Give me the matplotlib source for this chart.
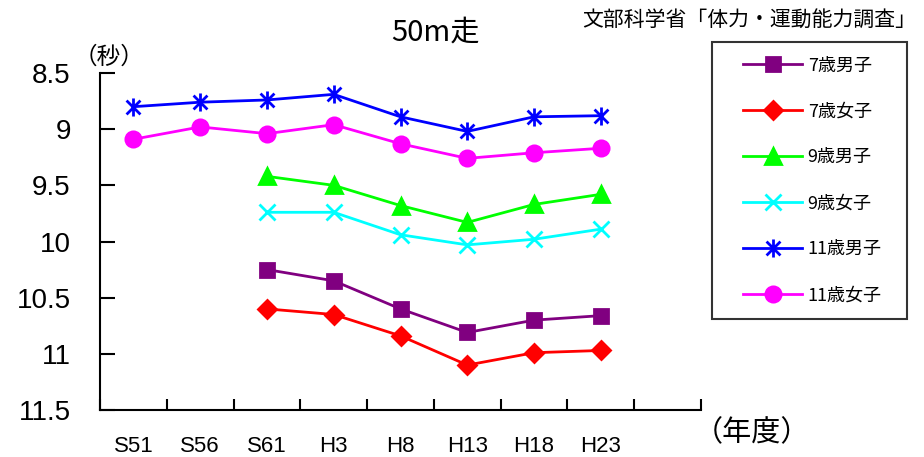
import matplotlib
matplotlib.use("Agg")
import matplotlib.pyplot as plt
import numpy as np
from matplotlib.path import Path
from matplotlib.lines import Line2D
from matplotlib.legend_handler import HandlerLine2D

plt.rcParams['font.family'] = ['Noto Sans CJK JP', 'DejaVu Sans']

years = ["S51", "S56", "S61", "H3", "H8", "H13", "H18", "H23"]
boys7 = [None, None, 10.25, 10.35, 10.60, 10.81, 10.70, 10.66]
girls7 = [None, None, 10.60, 10.65, 10.84, 11.10, 10.99, 10.97]
boys9 = [None, None, 9.42, 9.50, 9.68, 9.83, 9.67, 9.58]
girls9 = [None, None, 9.74, 9.74, 9.94, 10.03, 9.98, 9.89]
boys11 = [8.80, 8.76, 8.74, 8.69, 8.89, 9.02, 8.89, 8.88]
girls11 = [9.09, 8.98, 9.04, 8.96, 9.13, 9.26, 9.21, 9.17]
labels = ["7歳男子", "7歳女子", "9歳男子", "9歳女子", "11歳男子", "11歳女子"]

# asterisk marker: X plus a vertical bar
ast = Path([(-1, -1), (1, 1), (-1, 1), (1, -1), (0, -1.3), (0, 1.3)],
           [Path.MOVETO, Path.LINETO, Path.MOVETO, Path.LINETO, Path.MOVETO, Path.LINETO])

series = [
    (boys7, "#800080", "s", 10),
    (girls7, "#ff0000", "D", 9),
    (boys9, "#00ff00", "^", 11),
    (girls9, "#00ffff", "x", 12),
    (boys11, "#0000ff", ast, 13),
    (girls11, "#ff00ff", "o", 11),
]

fig = plt.figure(figsize=(9.24, 4.57), dpi=100)
ax = fig.add_axes([100/924, 1-410/457, 601/924, 337/457])

x = np.arange(len(years))
for (vals, col, mk, ms), lab in zip(series, labels):
    v = np.array([np.nan if a is None else a for a in vals], dtype=float)
    ax.plot(x, v, color=col, lw=2, marker=mk, markersize=ms,
            markeredgewidth=2, label=lab)

ax.set_xlim(-0.5, 8.5)
ax.set_ylim(11.5, 8.5)
ax.set_yticks([8.5, 9, 9.5, 10, 10.5, 11, 11.5])
ax.set_yticklabels(["8.5", "9", "9.5", "10", "10.5", "11", "11.5"], fontsize=20,
                   family=['Liberation Sans', 'DejaVu Sans'])
ax.set_xticks(np.arange(-0.5, 9, 1.0))
ax.set_xticklabels([])
ax.set_xticks(x, minor=True)
ax.set_xticklabels(years, minor=True, fontsize=16,
                   family=['Liberation Sans', 'DejaVu Sans'])
ax.tick_params(axis='x', which='major', direction='in', length=8, width=1.5)
ax.tick_params(axis='x', which='minor', length=0, pad=19)
ax.tick_params(axis='y', direction='in', length=11, width=1.5, pad=21)
for s in ['top', 'right']:
    ax.spines[s].set_visible(False)
for s in ['left', 'bottom']:
    ax.spines[s].set_linewidth(1.5)

fig.text(435/924, 1-33/457, "50m走", fontsize=21, ha='center', va='center')
fig.text(916/924, 1-20/457, "文部科学省「体力・運動能力調査」", fontsize=15,
         ha='right', va='center')
fig.text(109/924, 1-57/457, "（秒）", fontsize=17, ha='center', va='center')
fig.text(752/924, 1-433/457, "（年度）", fontsize=21, ha='center', va='center')

leg = ax.legend(loc='upper left', bbox_to_anchor=(712/924, 1-322/457, 195/924, 280/457),
                bbox_transform=fig.transFigure, mode='expand', fontsize=13,
                frameon=True, fancybox=False, edgecolor='black',
                labelspacing=1.55, handlelength=4.2, borderpad=0.8,
                handletextpad=0.3, borderaxespad=0,
                handler_map={Line2D: HandlerLine2D(xpad=0.92)})
leg.get_frame().set_linewidth(1.5)

fig.savefig("out.png", dpi=100)
